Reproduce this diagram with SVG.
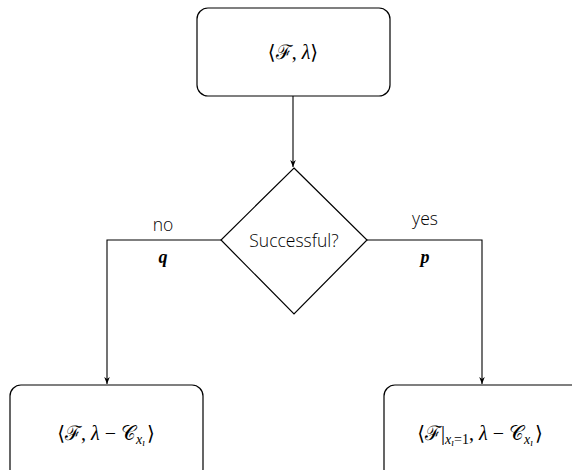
<svg xmlns="http://www.w3.org/2000/svg" width="572" height="470" viewBox="0 0 572 470">
  <defs>
    <marker id="arrow" viewBox="0 0 10 10" refX="10" refY="5" markerWidth="7" markerHeight="7" orient="auto" markerUnits="userSpaceOnUse">
      <path d="M0,1 L10,5 L0,9 L3,5 Z" fill="#000"/>
    </marker>
    <style>
      .box { fill: #fff; stroke: #000; stroke-width: 1.2; }
      .edge { fill: none; stroke: #000; stroke-width: 1.1; }
      .math { font-family: "Liberation Serif", "DejaVu Serif", serif; font-size: 20px; fill: #000; }
      .mi { font-style: italic; }
      .label { font-family: "Open Sans", "Lato", "Liberation Sans", sans-serif; font-weight: 300; font-size: 17.5px; fill: #000; }
      .var { font-family: "Liberation Serif", "DejaVu Serif", serif; font-style: italic; font-weight: bold; font-size: 18px; fill: #000; }
    </style>
  </defs>
  <rect width="572" height="470" fill="#fff"/>

  <g id="connectors">
    <path class="edge" d="M293,96 L293,167" marker-end="url(#arrow)"/>
    <path class="edge" d="M221,240 L107,240 L107,384" marker-end="url(#arrow)"/>
    <path class="edge" d="M367,240 L482,240 L482,384" marker-end="url(#arrow)"/>
    <text class="label" x="163" y="231" text-anchor="middle">no</text>
    <text class="var" x="163" y="263" text-anchor="middle">q</text>
    <text class="label" x="425" y="225" text-anchor="middle">yes</text>
    <text class="var" x="425" y="263" text-anchor="middle">p</text>
  </g>

  <g id="start">
    <rect class="box" x="197" y="8" width="193" height="88" rx="11"/>
    <text class="math" x="293" y="59" text-anchor="middle">⟨ℱ, <tspan class="mi">λ</tspan>⟩</text>
  </g>

  <g id="decision">
    <polygon class="box" points="294,168 367,240 294,314 221,240"/>
    <text class="label" x="294" y="247" text-anchor="middle">Successful?</text>
  </g>

  <g id="fail">
    <rect class="box" x="10" y="385" width="193" height="95" rx="11"/>
    <text class="math" x="106" y="440" text-anchor="middle">⟨ℱ, <tspan class="mi">λ</tspan> − 𝒞<tspan class="mi" font-size="14" dy="4">x</tspan><tspan class="mi" font-size="10" dy="2">ı</tspan><tspan dx="2" dy="-6">⟩</tspan></text>
  </g>

  <g id="success">
    <rect class="box" x="384" y="385" width="200" height="95" rx="11"/>
    <text class="math" x="480" y="440" text-anchor="middle">⟨ℱ|<tspan class="mi" font-size="14" dy="4">x</tspan><tspan class="mi" font-size="10" dy="2">ı</tspan><tspan font-size="14" dy="-2">=1</tspan><tspan dy="-4">, </tspan><tspan class="mi">λ</tspan> − 𝒞<tspan class="mi" font-size="14" dy="4">x</tspan><tspan class="mi" font-size="10" dy="2">ı</tspan><tspan dx="2" dy="-6">⟩</tspan></text>
  </g>
</svg>
